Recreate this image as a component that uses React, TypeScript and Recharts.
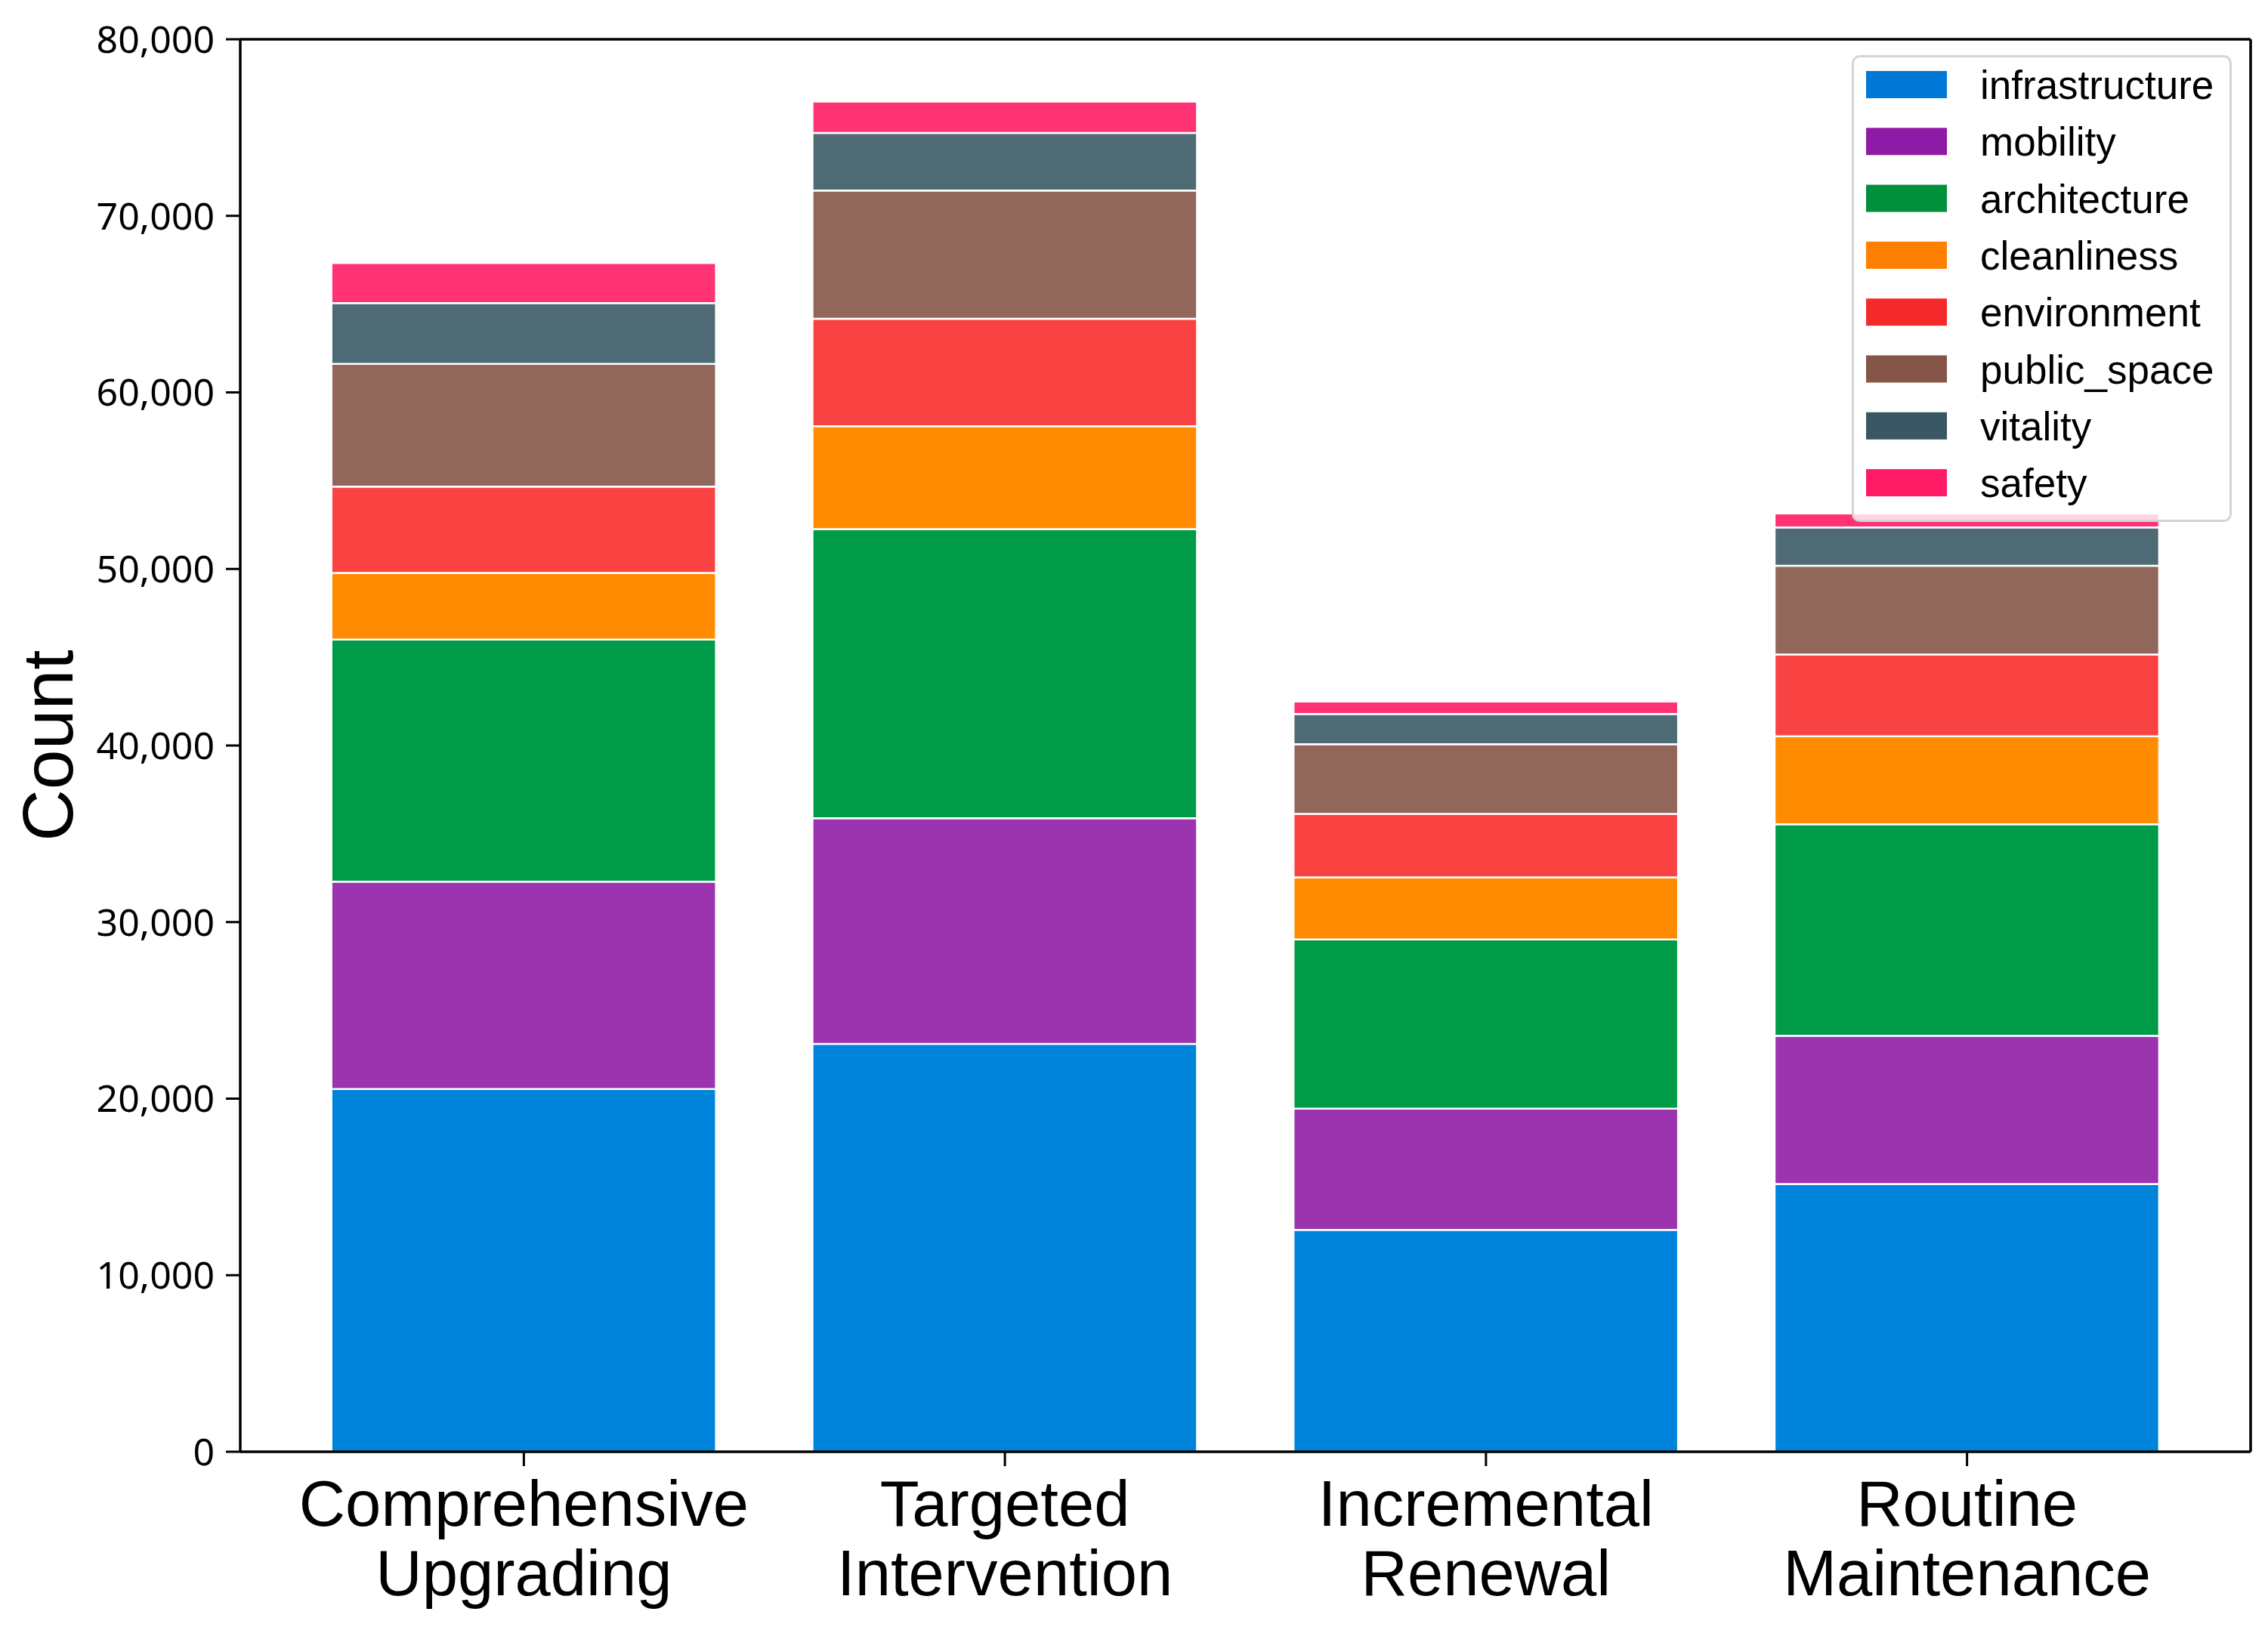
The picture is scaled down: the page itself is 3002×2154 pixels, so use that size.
import React from 'react';
import { BarChart, Bar, XAxis, YAxis } from 'recharts';

const categories = [
  'Comprehensive Upgrading',
  'Targeted Intervention',
  'Incremental Renewal',
  'Routine Maintenance',
];

const infrastructure = [20550, 23100, 12570, 15170];
const mobility = [11740, 12780, 6860, 8390];
const architecture = [13710, 16380, 9590, 11980];
const cleanliness = [3780, 5830, 3520, 4980];
const environment = [4880, 6080, 3590, 4640];
const publicSpace = [6960, 7260, 3940, 5020];
const vitality = [3440, 3270, 1720, 2170];
const safety = [2270, 1770, 700, 790];

const yTicks = [0, 10000, 20000, 30000, 40000, 50000, 60000, 70000, 80000];

const series = [
  { key: 'infrastructure', values: infrastructure, bar: '#0084DB', swatch: '#0078D7' },
  { key: 'mobility', values: mobility, bar: '#9C33AF', swatch: '#8E1AA5' },
  { key: 'architecture', values: architecture, bar: '#009B48', swatch: '#008F3A' },
  { key: 'cleanliness', values: cleanliness, bar: '#FF8C00', swatch: '#FF7F00' },
  { key: 'environment', values: environment, bar: '#F94343', swatch: '#F42A2A' },
  { key: 'public_space', values: publicSpace, bar: '#92675B', swatch: '#855647' },
  { key: 'vitality', values: vitality, bar: '#4E6A74', swatch: '#395763' },
  { key: 'safety', values: safety, bar: '#FF3274', swatch: '#FF1A66' },
];

const data = categories.map((name, i) => {
  const row: any = { name };
  series.forEach((s) => {
    row[s.key] = s.values[i];
  });
  return row;
});

const W = 3002;
const H = 2154;
const AXIS = '#000';

const CategoryTick = ({ x, y, payload }: any) => {
  const lines = String(payload.value).split(' ');
  return (
    <text
      x={x}
      y={y}
      textAnchor="middle"
      fontFamily="'Liberation Sans', Arial, sans-serif"
      fontSize={85}
      fill="#000"
    >
      {lines.map((l, i) => (
        <tspan key={i} x={x} dy={i === 0 ? 77 : 92}>
          {l}
        </tspan>
      ))}
    </text>
  );
};

const LegendBox = () => {
  const left = 2451;
  const top = 73;
  const w = 503;
  const h = 618;
  const fs = 53;
  return (
    <svg
      width={w}
      height={h}
      style={{ position: 'absolute', left, top, overflow: 'visible' }}
    >
      <rect
        x={1.5}
        y={1.5}
        width={w - 3}
        height={h - 3}
        rx={9}
        fill="rgba(255,255,255,0.8)"
        stroke="#d4d4d4"
        strokeWidth={3}
      />
      {series.map((s, i) => {
        const cy = 39 + i * 75.3;
        return (
          <g key={s.key}>
            <rect x={19} y={cy - 18} width={107} height={36} fill={s.swatch} />
            <text
              x={170}
              y={cy + fs * 0.36}
              fontFamily="'Liberation Sans', Arial, sans-serif"
              fontSize={fs}
              fill="#000"
            >
              {s.key}
            </text>
          </g>
        );
      })}
    </svg>
  );
};

export default function App() {
  return (
    <div
      style={{
        position: 'absolute',
        left: 0,
        top: 0,
        width: W,
        height: H,
        background: '#fff',
      }}
    >
      <BarChart
        width={W}
        height={H}
        data={data}
        margin={{ top: 51, right: 22, bottom: 0, left: 0 }}
        barCategoryGap="10%"
      >
        <XAxis
          dataKey="name"
          interval={0}
          height={232}
          padding={{ left: 57, right: 57 }}
          tickSize={19}
          tickMargin={2}
          tick={<CategoryTick />}
          tickLine={{ stroke: AXIS, strokeWidth: 3 }}
          axisLine={{ stroke: AXIS, strokeWidth: 3.5 }}
        />
        <XAxis
          xAxisId="top"
          orientation="top"
          dataKey="name"
          height={1}
          tick={false}
          tickLine={false}
          axisLine={{ stroke: AXIS, strokeWidth: 3.5 }}
        />
        <YAxis
          domain={[0, 80000]}
          ticks={yTicks}
          width={318}
          tickSize={19}
          tickMargin={15}
          tickFormatter={(v: number) => v.toLocaleString('en-US')}
          tick={{ fontSize: 50, fontFamily: "'Noto Sans', sans-serif", fill: '#000' }}
          tickLine={{ stroke: AXIS, strokeWidth: 3 }}
          axisLine={{ stroke: AXIS, strokeWidth: 3.5 }}
          label={{
            value: 'Count',
            angle: -90,
            position: 'insideLeft',
            offset: 62,
            style: {
              textAnchor: 'middle',
              fontSize: 95,
              fontFamily: "'Liberation Sans', Arial, sans-serif",
              fill: '#000',
            },
          }}
        />
        <YAxis
          yAxisId="right"
          orientation="right"
          type="number"
          domain={[0, 80000]}
          width={1}
          tick={false}
          tickLine={false}
          axisLine={{ stroke: AXIS, strokeWidth: 3.5 }}
        />
        {series.map((s) => (
          <Bar
            key={s.key}
            dataKey={s.key}
            stackId="a"
            fill={s.bar}
            stroke="#fff"
            strokeWidth={2.5}
            isAnimationActive={false}
          />
        ))}
      </BarChart>
      <LegendBox />
    </div>
  );
}
